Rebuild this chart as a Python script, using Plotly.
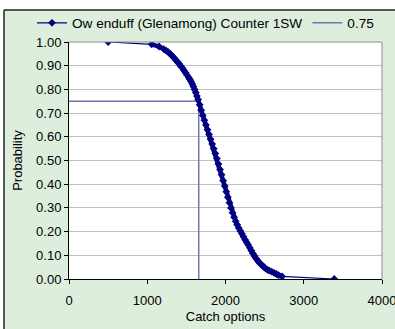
import plotly.graph_objects as go

# Curve data (catch option, probability)
catch_options = [500, 1057, 1151, 1211, 1240, 1266, 1290, 1310, 1330, 1350, 1370, 1390,
                 1410, 1430, 1450, 1470, 1490, 1510, 1530, 1545, 1560, 1575, 1590, 1605,
                 1620, 1635, 1650, 1670, 1690, 1710, 1730, 1750, 1770, 1790, 1810, 1830,
                 1850, 1870, 1890, 1910, 1930, 1950, 1970, 1990, 2010, 2030, 2050, 2070,
                 2090, 2110, 2130, 2150, 2170, 2190, 2210, 2230, 2250, 2270, 2290, 2310,
                 2330, 2350, 2370, 2390, 2410, 2430, 2450, 2470, 2490, 2510, 2535, 2560,
                 2590, 2620, 2650, 2680, 2724, 3390]
probability = [1.000, 0.990, 0.981, 0.970, 0.964, 0.958, 0.951, 0.944, 0.938, 0.930, 0.922, 0.915,
               0.907, 0.898, 0.890, 0.880, 0.870, 0.860, 0.850, 0.842, 0.833, 0.823, 0.812, 0.800,
               0.787, 0.772, 0.757, 0.735, 0.712, 0.690, 0.670, 0.650, 0.630, 0.610, 0.590, 0.570,
               0.550, 0.530, 0.508, 0.485, 0.462, 0.440, 0.415, 0.392, 0.368, 0.345, 0.322, 0.300,
               0.280, 0.261, 0.244, 0.229, 0.215, 0.203, 0.191, 0.178, 0.166, 0.155, 0.144, 0.132,
               0.120, 0.108, 0.097, 0.087, 0.078, 0.070, 0.063, 0.057, 0.051, 0.045, 0.039, 0.035,
               0.031, 0.026, 0.021, 0.016, 0.011, 0.000]

# 0.75 reference line
ref_x = [0, 1658, 1658]
ref_y = [0.75, 0.75, 0.0]

x_ticks = [0, 1000, 2000, 3000, 4000]
y_ticks = [0.0, 0.1, 0.2, 0.3, 0.4, 0.5, 0.6, 0.7, 0.8, 0.9, 1.0]

FONT = "Liberation Sans, Arial, sans-serif"
NAVY = "#000080"
REF = "#7474B4"
BG = "#DDEEDD"

fig = go.Figure()
fig.add_trace(go.Scatter(
    x=ref_x, y=ref_y, mode="lines", name="0.75",
    line=dict(color=REF, width=1.5), legendrank=2))
# dense part of the curve drawn as a thick band (same data)
fig.add_trace(go.Scatter(
    x=catch_options[1:-1], y=probability[1:-1], mode="lines", showlegend=False,
    line=dict(color=NAVY, width=4.5), hoverinfo="skip"))
fig.add_trace(go.Scatter(
    x=catch_options, y=probability, mode="lines+markers",
    name="Ow enduff (Glenamong) Counter 1SW",
    line=dict(color=NAVY, width=1.2),
    marker=dict(symbol="diamond", size=6, color=NAVY), legendrank=1))

W, H = 395, 329
L, R, T, B = 69, 13, 42, 50
pw, ph = W - L - R, H - T - B
def px(x):
    return (x - L) / pw
def py(y):
    return (H - B - y) / ph

shapes = [
    dict(type="rect", xref="paper", yref="paper", x0=px(-10), x1=px(4), y0=py(400), y1=py(-10),
         fillcolor="white", line=dict(width=0), layer="below"),
    dict(type="rect", xref="paper", yref="paper", x0=px(-10), x1=px(420), y0=py(10), y1=py(-10),
         fillcolor="white", line=dict(width=0), layer="below"),
    dict(type="line", xref="paper", yref="paper", x0=px(4), x1=px(4), y0=py(10), y1=py(400),
         line=dict(color="#222222", width=1.5)),
    dict(type="line", xref="paper", yref="paper", x0=px(4), x1=px(420), y0=py(10), y1=py(10),
         line=dict(color="#222222", width=1.5)),
    dict(type="path", xref="paper", yref="paper", path="M 0,1 L 1,1 L 1,0",
         line=dict(color="#8C8C8C", width=1)),
]

fig.update_layout(
    width=W, height=H,
    margin=dict(l=L, r=R, t=T, b=B, autoexpand=False),
    paper_bgcolor=BG, plot_bgcolor="white",
    font=dict(family=FONT, size=13, color="black"),
    showlegend=True,
    legend=dict(orientation="h", x=px(32), xanchor="left", y=py(23), yanchor="middle",
                bgcolor="rgba(0,0,0,0)", font=dict(size=13.6, family=FONT),
                itemwidth=30, tracegroupgap=0),
    shapes=shapes,
    xaxis=dict(range=[0, 4000], tickvals=x_ticks, ticks="outside", ticklen=4,
               tickcolor="black", showline=True, linecolor="black", linewidth=1,
               showgrid=False, zeroline=False, ticklabeloverflow="allow",
               ticklabelstandoff=5,
               title=dict(text="Catch options", font=dict(size=13), standoff=5),
               tickfont=dict(size=13)),
    yaxis=dict(range=[0, 1], tickvals=y_ticks, tickformat=".2f", ticks="outside", ticklen=4,
               tickcolor="black", showline=True, linecolor="black", linewidth=1,
               showgrid=True, gridcolor="#C0C0C0", gridwidth=1, zeroline=False,
               title=dict(text="Probability", font=dict(size=13), standoff=10),
               tickfont=dict(size=13)),
)

fig.write_html("out.html", config={"displayModeBar": False},
               post_script="document.body.style.margin='0';")
